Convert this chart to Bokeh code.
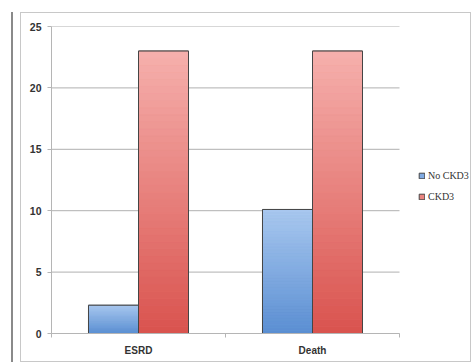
from bokeh.plotting import figure
from bokeh.models import FixedTicker, Legend, LegendItem, ColumnDataSource
from bokeh.embed import file_html
from bokeh.resources import INLINE

categories = ["ESRD", "Death"]
no_ckd3 = [2.3, 10.1]
ckd3 = [23.0, 23.0]
y_ticks = [0, 5, 10, 15, 20, 25]

series = [
    ("No CKD3", no_ckd3, -0.1437, "#a9c8ef", "#5a8ed2", "#80aae2"),
    ("CKD3", ckd3, 0.1437, "#f6b0ad", "#d9534e", "#ea8480"),
]

W, H = 449, 348
PLOT_W = 348    # width of the category area (px)
FRAME_W = 418   # frame width incl. legend area (px)
x_end = len(categories) * FRAME_W / PLOT_W

p = figure(width=W, height=H, output_backend="svg", toolbar_location=None,
           x_range=(0, x_end), y_range=(0, 25),
           min_border_left=30, min_border_right=1, min_border_top=13,
           min_border_bottom=28)
p.outline_line_color = None
p.background_fill_color = "white"
p.border_fill_color = "white"
p.styles = {
    "transform": "translate(21px, 13px)",
    "box-shadow": "0 0 0 1px #c8c8c8, -7px 0 0 1px #ffffff, -9px 0 0 1px #8a8a8a",
}

# horizontal grid lines over the category area only
p.xgrid.grid_line_color = None
p.ygrid.grid_line_color = None
p.segment(x0=[0] * len(y_ticks), x1=[len(categories)] * len(y_ticks),
          y0=y_ticks, y1=y_ticks, line_color="#b0b0b0", line_width=1,
          level="underlay")

bw = 0.2874
N = 40


def mix(c1, c2, t):
    a = [int(c1[i:i + 2], 16) for i in (1, 3, 5)]
    b = [int(c2[i:i + 2], 16) for i in (1, 3, 5)]
    return "#%02x%02x%02x" % tuple(round(a[k] + (b[k] - a[k]) * t) for k in range(3))


legend_items = []
for name, vals, off, ctop, cbot, cmid in series:
    xs = [i + 0.5 + off for i in range(len(categories))]
    base = p.vbar(x=xs, top=vals, width=bw, bottom=0, fill_color=cmid,
                  line_color="#454545", line_width=1)
    L, R, B, T, C = [], [], [], [], []
    for x, v in zip(xs, vals):
        for k in range(N):
            L.append(x - bw / 2)
            R.append(x + bw / 2)
            B.append(v * k / N)
            T.append(v * (k + 1) / N)
            C.append(mix(cbot, ctop, (k + 0.5) / N))
    p.quad(source=ColumnDataSource(dict(left=L, right=R, bottom=B, top=T, color=C)),
           left="left", right="right", bottom="bottom", top="top",
           fill_color="color", line_color="color", line_width=0.5)
    p.vbar(x=xs, top=vals, width=bw, bottom=0, fill_alpha=0,
           line_color="#454545", line_width=1)
    legend_items.append(LegendItem(label=name, renderers=[base]))

# axes
p.yaxis.ticker = FixedTicker(ticks=y_ticks)
p.yaxis.axis_line_color = "#b5b5b5"
p.yaxis.major_tick_line_color = "#b5b5b5"
p.yaxis.major_tick_out = 4
p.yaxis.major_tick_in = 0
p.yaxis.minor_tick_line_color = None
p.yaxis.major_label_text_font = "Liberation Sans"
p.yaxis.major_label_text_font_style = "bold"
p.yaxis.major_label_text_font_size = "10.5px"
p.yaxis.major_label_text_color = "#333333"
p.yaxis.major_label_standoff = 6

p.xaxis.bounds = (0, len(categories))
p.xaxis.ticker = FixedTicker(ticks=[i + 0.5 for i in range(len(categories))],
                             minor_ticks=list(range(len(categories) + 1)))
p.xaxis.major_label_overrides = {i + 0.5: c for i, c in enumerate(categories)}
p.xaxis.axis_line_color = "#b5b5b5"
p.xaxis.major_tick_line_color = None
p.xaxis.major_tick_out = 0
p.xaxis.major_tick_in = 0
p.xaxis.minor_tick_line_color = "#b5b5b5"
p.xaxis.minor_tick_out = 4
p.xaxis.minor_tick_in = 0
p.xaxis.major_label_text_font = "Liberation Sans"
p.xaxis.major_label_text_font_style = "bold"
p.xaxis.major_label_text_font_size = "10px"
p.xaxis.major_label_text_color = "#333333"
p.xaxis.major_label_standoff = 7

legend = Legend(items=legend_items, location=(367, 131))
legend.glyph_width = 7
legend.glyph_height = 7
legend.label_standoff = 3
legend.label_height = 10
legend.spacing = 10
legend.padding = 0
legend.margin = 0
legend.border_line_color = None
legend.background_fill_alpha = 0
legend.label_text_font = "Liberation Serif"
legend.label_text_font_size = "10px"
legend.label_text_color = "#333333"
p.add_layout(legend, "center")

open("out.html", "w").write(file_html(p, INLINE))
